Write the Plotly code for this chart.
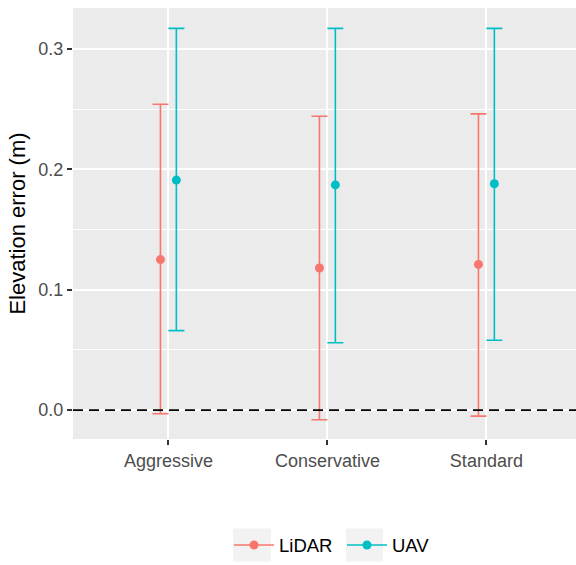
import plotly.graph_objects as go

# Elevation error summary per processing mode
categories = ["Aggressive", "Conservative", "Standard"]
lidar_mean = [0.125, 0.118, 0.121]
lidar_low = [-0.003, -0.008, -0.005]
lidar_high = [0.254, 0.244, 0.246]
uav_mean = [0.191, 0.187, 0.188]
uav_low = [0.066, 0.056, 0.058]
uav_high = [0.317, 0.317, 0.317]
y_ticks = [0.0, 0.1, 0.2, 0.3]

RED = "#F8766D"
CYAN = "#00BFC4"
dodge = 0.05
xpos = list(range(1, len(categories) + 1))

fig = go.Figure()


def add_series(name, mean, low, high, color, offset):
    fig.add_trace(go.Scatter(
        x=[p + offset for p in xpos],
        y=mean,
        mode="markers",
        marker=dict(color=color, size=9),
        error_y=dict(
            type="data", symmetric=False,
            array=[h - m for h, m in zip(high, mean)],
            arrayminus=[m - l for m, l in zip(mean, low)],
            color=color, thickness=1.6, width=8,
        ),
        showlegend=False,
        hoverinfo="skip",
    ))
    # legend entry: point on a line, like a pointrange key
    fig.add_trace(go.Scatter(
        x=[None], y=[None], name=name,
        mode="lines+markers",
        line=dict(color=color, width=1.6),
        marker=dict(color=color, size=9),
    ))


add_series("LiDAR", lidar_mean, lidar_low, lidar_high, RED, -dodge)
add_series("UAV", uav_mean, uav_low, uav_high, CYAN, dodge)

# reference line at zero error
fig.add_hline(y=0, line=dict(color="black", width=1.8, dash="10px,6px"))

# grey key backgrounds in the legend
for x0, x1 in [(233, 271), (346, 383)]:
    fig.add_shape(type="rect", xref="paper", yref="paper",
                  x0=(x0 - 73) / 503, x1=(x1 - 73) / 503,
                  y0=(441 - 564) / 433, y1=(441 - 531) / 433,
                  fillcolor="#F2F2F2", line=dict(width=0), layer="below")

minor_vals = [-0.05, 0.05, 0.15, 0.25]

fig.update_layout(
    width=576, height=565,
    margin=dict(l=73, r=0, t=8, b=124),
    paper_bgcolor="white",
    plot_bgcolor="#EBEBEB",
    font=dict(family="Arial, Liberation Sans, sans-serif", color="#4D4D4D", size=18),
    xaxis=dict(
        range=[0.4, 0.4 + 503 / 159],
        tickvals=xpos, ticktext=categories,
        showgrid=True, gridcolor="white", gridwidth=2,
        ticks="outside", ticklen=5, tickcolor="#333333", tickwidth=1.5,
        zeroline=False, showline=False,
        tickfont=dict(size=18, color="#4D4D4D"),
    ),
    yaxis=dict(
        range=[-29 / 1210, 404 / 1210],
        tickvals=y_ticks, ticktext=[f"{v:.1f}" for v in y_ticks],
        showgrid=True, gridcolor="white", gridwidth=2,
        minor=dict(tickvals=minor_vals, showgrid=True, gridcolor="white", gridwidth=1),
        ticks="outside", ticklen=5, tickcolor="#333333", tickwidth=1.5,
        zeroline=False, showline=False,
        tickfont=dict(size=18, color="#4D4D4D"),
        title=dict(text="Elevation error (m)", font=dict(size=22, color="black"), standoff=6),
    ),
    legend=dict(
        orientation="h", x=(229 - 73) / 503, xanchor="left",
        y=(441 - 548) / 433, yanchor="middle",
        font=dict(size=18.5, color="black"), bgcolor="rgba(0,0,0,0)",
        itemwidth=40, entrywidth=58, entrywidthmode="pixels",
    ),
)

fig.write_html("out.html")
